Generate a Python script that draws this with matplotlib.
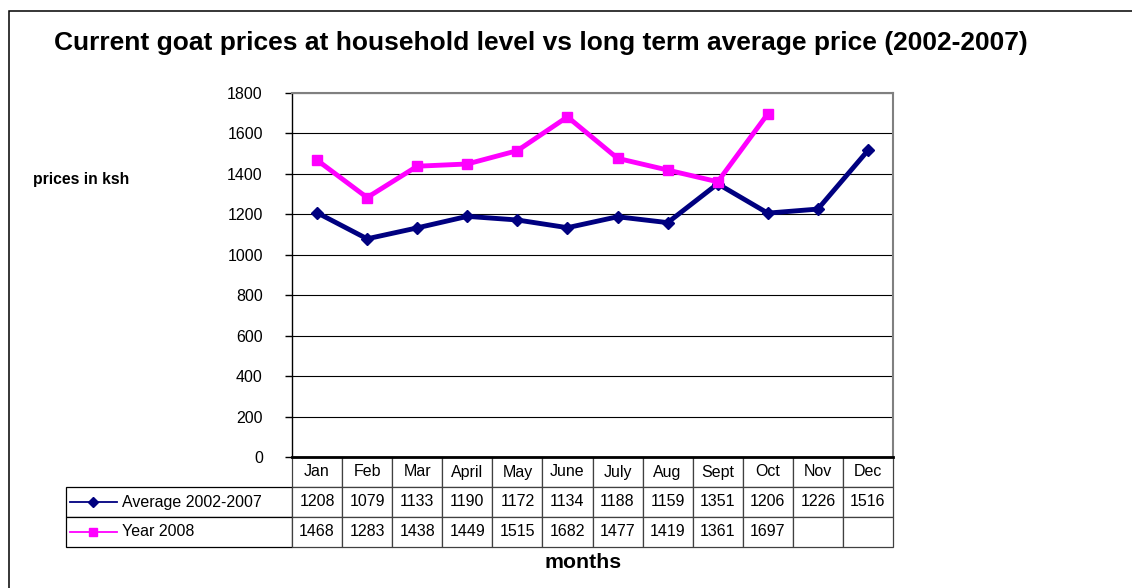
import matplotlib
matplotlib.use('Agg')
import matplotlib.pyplot as plt
import matplotlib.patches as patches
import numpy as np

plt.rcParams['font.family'] = ['Liberation Sans', 'DejaVu Sans']

months = ['Jan', 'Feb', 'Mar', 'April', 'May', 'June', 'July', 'Aug', 'Sept', 'Oct', 'Nov', 'Dec']
avg_0207 = [1208, 1079, 1133, 1190, 1172, 1134, 1188, 1159, 1351, 1206, 1226, 1516]
year_2008 = [1468, 1283, 1438, 1449, 1515, 1682, 1477, 1419, 1361, 1697, None, None]
series_names = ['Average 2002-2007', 'Year 2008']

NAVY = '#000080'
MAGENTA = '#FF00FF'

W, H = 1132, 588
fig = plt.figure(figsize=(W / 100, H / 100), dpi=100)

# outer border of the chart area
fig.patches.append(patches.Rectangle((9 / W, -0.1), 1.2, 1 - 11 / H + 0.1,
                                     transform=fig.transFigure, fill=False,
                                     edgecolor='black', lw=1.1))

ax = fig.add_axes([292 / W, 1 - 457 / H, (893 - 292) / W, (457 - 93) / H])

x = np.arange(len(months))
y08 = np.array([np.nan if v is None else v for v in year_2008], dtype=float)
ax.plot(x, avg_0207, color=NAVY, lw=3.5, marker='D', ms=6, zorder=3)
ax.plot(x, y08, color=MAGENTA, lw=3.5, marker='s', ms=7, zorder=4)

ax.set_xlim(-0.5, len(months) - 0.5)
ax.set_ylim(0, 1800)
ax.set_yticks(range(0, 1801, 200))
ax.set_xticks([])
ax.yaxis.grid(True, color='black', lw=0.8)
ax.set_axisbelow(True)
ax.tick_params(axis='y', direction='out', length=5, width=1, pad=16, labelsize=11.5)
ax.spines['left'].set_linewidth(1.0)
ax.spines['bottom'].set_linewidth(2.0)
for s in ['top', 'right']:
    ax.spines[s].set_color('#808080')
    ax.spines[s].set_linewidth(1.5)

# data table under the plot (bbox covers the month columns only)
cell_text = [[str(v) for v in avg_0207],
             ['' if v is None else str(v) for v in year_2008]]
lab_w = (292 - 66) / 601
tbl_h = (547 - 457) / 364
tbl = ax.table(cellText=cell_text, colLabels=months,
               colWidths=[1 / 12] * 12, cellLoc='center',
               bbox=[0, -tbl_h, 1, tbl_h])
cell_h = tbl[1, 0].get_height()
for r in (1, 2):
    tbl.add_cell(r, -1, width=lab_w, height=cell_h, text='')
tbl.auto_set_font_size(False)
tbl.set_fontsize(11.5)
for (r, c), cell in tbl.get_celld().items():
    cell.set_edgecolor('#404040')
    cell.set_linewidth(0.9)
    if c == -1:
        cell.set_edgecolor('black')

# legend keys inside the row label cells
row_h = tbl_h / 3
for i, (name, col, mk) in enumerate(zip(series_names, [NAVY, MAGENTA], ['D', 's'])):
    yy = -row_h * (1.5 + i)
    ax.plot([(70 - 292) / 601, (117 - 292) / 601], [yy, yy], color=col, lw=1.3,
            transform=ax.transAxes, clip_on=False)
    ax.plot([(93.5 - 292) / 601], [yy], color=col, marker=mk, ms=5 if mk == 'D' else 6,
            ls='none', transform=ax.transAxes, clip_on=False)
    ax.text((122 - 292) / 601, yy, name, fontsize=11.5, va='center', ha='left',
            transform=ax.transAxes)

fig.text(541 / W, 1 - 43 / H,
         'Current goat prices at household level vs long term average price (2002-2007)',
         fontsize=19, fontweight='bold', ha='center', va='center')
fig.text(33 / W, 1 - 179 / H, 'prices in ksh', fontsize=11.3, fontweight='bold',
         ha='left', va='center')
fig.text(583 / W, 1 - 562 / H, 'months', fontsize=15.3, fontweight='bold',
         ha='center', va='center')

fig.savefig('out.png', dpi=100)
plt.close(fig)
